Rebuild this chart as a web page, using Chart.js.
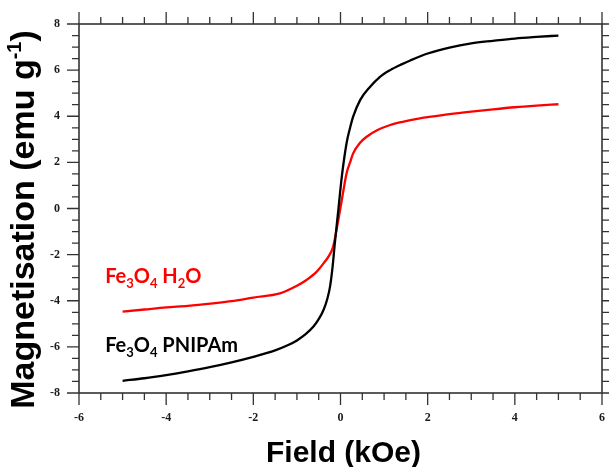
<!DOCTYPE html>
<html>
<head>
<meta charset="utf-8">
<script src="https://cdn.jsdelivr.net/npm/chart.js@4.4.1/dist/chart.umd.min.js"></script>
<style>
  body { margin: 0; background: #fff; }
  canvas { display: block; }
</style>
</head>
<body>
<canvas id="magChart" width="612" height="467"></canvas>
<script>
// Fe3O4 PNIPAm (black)
const fieldPnipam = [-5.0, -4.5, -4.0, -3.5, -3.0, -2.5, -2.0, -1.5, -1.2, -1.0, -0.8, -0.62, -0.5, -0.39, -0.3, -0.24, -0.18, -0.13, -0.05,
  0.03, 0.14, 0.22, 0.29, 0.45, 0.68, 0.9, 1.14, 1.4, 1.6, 2.0, 2.5, 3.0, 3.5, 4.0, 4.5, 5.0];
const magPnipam = [-7.47, -7.36, -7.22, -7.06, -6.88, -6.67, -6.43, -6.15, -5.92, -5.72, -5.45, -5.12, -4.8, -4.4, -3.9, -3.39, -2.5, -1.5, -0.07,
  1.38, 2.84, 3.5, 3.98, 4.7, 5.28, 5.7, 6.0, 6.25, 6.42, 6.72, 6.98, 7.16, 7.27, 7.37, 7.44, 7.5];

// Fe3O4 H2O (red)
const fieldWater = [-5.0, -4.5, -4.0, -3.5, -2.92, -2.5, -2.0, -1.39, -1.0, -0.78, -0.55, -0.39, -0.28, -0.17, -0.05,
  0.03, 0.14, 0.22, 0.29, 0.45, 0.6, 0.85, 1.14, 1.4, 1.82, 2.0, 2.5, 3.0, 3.5, 4.0, 4.5, 5.0];
const magWater = [-4.47, -4.38, -4.29, -4.22, -4.11, -4.02, -3.86, -3.68, -3.35, -3.1, -2.75, -2.38, -2.1, -1.66, -0.5,
  0.37, 1.53, 2.0, 2.39, 2.85, 3.11, 3.4, 3.62, 3.75, 3.91, 3.96, 4.09, 4.2, 4.3, 4.39, 4.46, 4.52];

const xRange = [-6, 6];
const yRange = [-8, 8];
const minorStep = 0.5;
const majorStep = 2;

// labels inside the plot, placed in data units
const labels = [
  { x: -5.4, y: -3.23, color: '#ff0000', parts: [['Fe'], ['3', 1], ['O'], ['4', 1], [' H'], ['2', 1], ['O']] },
  { x: -5.4, y: -6.21, color: '#000000', parts: [['Fe'], ['3', 1], ['O'], ['4', 1], [' PNIPAm']] }
];

const toPoints = (xs, ys) => xs.map((x, i) => ({ x: x, y: ys[i] }));
const isMajor = v => Math.abs(v / majorStep - Math.round(v / majorStep)) < 1e-6;

function drawParts(ctx, parts, x, y, size, family) {
  let cx = x;
  parts.forEach(p => {
    const small = p[1];
    ctx.font = `bold ${small ? Math.round(size * 0.65) : size}px ${family}`;
    ctx.fillText(p[0], cx, small ? y + size * 0.25 : y);
    cx += ctx.measureText(p[0]).width;
  });
}

const frame = {
  id: 'frame',
  afterDraw(chart) {
    const { ctx, chartArea: a, scales: { x, y } } = chart;
    ctx.save();
    ctx.strokeStyle = '#333';
    ctx.lineWidth = 1.6;
    ctx.strokeRect(a.left, a.top, a.right - a.left, a.bottom - a.top);
    ctx.lineWidth = 1.3;
    ctx.beginPath();
    x.ticks.forEach(t => {
      const px = x.getPixelForValue(t.value);
      const len = isMajor(t.value) ? 12 : 7;
      ctx.moveTo(px, a.bottom); ctx.lineTo(px, a.bottom + len);
      ctx.moveTo(px, a.top); ctx.lineTo(px, a.top - len);
    });
    y.ticks.forEach(t => {
      const py = y.getPixelForValue(t.value);
      const len = isMajor(t.value) ? 12 : 7;
      ctx.moveTo(a.left, py); ctx.lineTo(a.left - len, py);
      ctx.moveTo(a.right, py); ctx.lineTo(a.right + 7, py);
    });
    ctx.stroke();

    // axis titles
    ctx.fillStyle = '#000';
    ctx.textBaseline = 'alphabetic';
    ctx.textAlign = 'center';
    ctx.font = 'bold 30px "Liberation Sans", Arial, sans-serif';
    ctx.fillText('Field (kOe)', (a.left + a.right) / 2 + 3, 462);

    const yParts = [['Magnetisation (emu g'], ['-1'], [')']];
    const fam = '"Liberation Sans", Arial, sans-serif';
    const size = 34;
    ctx.translate(34, (a.top + a.bottom) / 2 + 11);
    ctx.rotate(-Math.PI / 2);
    ctx.textAlign = 'left';
    let w = 0;
    yParts.forEach((p, i) => {
      ctx.font = `bold ${i === 1 ? 20 : size}px ${fam}`;
      w += ctx.measureText(p[0]).width;
    });
    let cx = -w / 2;
    yParts.forEach((p, i) => {
      ctx.font = `bold ${i === 1 ? 20 : size}px ${fam}`;
      ctx.fillText(p[0], cx, i === 1 ? -13 : 0);
      cx += ctx.measureText(p[0]).width;
    });
    ctx.restore();

    // series labels
    ctx.save();
    ctx.textAlign = 'left';
    ctx.textBaseline = 'alphabetic';
    labels.forEach(l => {
      ctx.fillStyle = l.color;
      drawParts(ctx, l.parts, x.getPixelForValue(l.x), y.getPixelForValue(l.y), 20, 'Lato, "Open Sans", sans-serif');
    });
    ctx.restore();
  }
};

const tickFont = { family: '"Liberation Serif", "Times New Roman", serif', weight: 'bold', size: 12 };

new Chart(document.getElementById('magChart'), {
  type: 'scatter',
  data: {
    datasets: [
      {
        label: 'Fe3O4 PNIPAm',
        data: toPoints(fieldPnipam, magPnipam),
        showLine: true,
        borderColor: '#000000',
        borderWidth: 2.3,
        pointRadius: 0,
        cubicInterpolationMode: 'monotone'
      },
      {
        label: 'Fe3O4 H2O',
        data: toPoints(fieldWater, magWater),
        showLine: true,
        borderColor: '#ff0000',
        borderWidth: 2.3,
        pointRadius: 0,
        cubicInterpolationMode: 'monotone'
      }
    ]
  },
  options: {
    responsive: false,
    animation: false,
    layout: { padding: { top: 24, right: 10, left: 0, bottom: 0 } },
    plugins: { legend: { display: false }, tooltip: { enabled: false } },
    scales: {
      x: {
        type: 'linear',
        min: xRange[0],
        max: xRange[1],
        grid: { display: false, drawTicks: false },
        border: { display: false },
        ticks: {
          stepSize: minorStep,
          autoSkip: false,
          maxRotation: 0,
          padding: 18,
          color: '#1a1a1a',
          font: tickFont,
          callback: v => isMajor(v) ? String(Math.round(v)) : ''
        },
        afterFit: s => { s.height = 74; s.paddingLeft = 0; s.paddingRight = 0; }
      },
      y: {
        type: 'linear',
        min: yRange[0],
        max: yRange[1],
        grid: { display: false, drawTicks: false },
        border: { display: false },
        ticks: {
          stepSize: minorStep,
          autoSkip: false,
          padding: 19,
          color: '#1a1a1a',
          font: tickFont,
          callback: v => isMajor(v) ? String(Math.round(v)) : ''
        },
        afterFit: s => { s.width = 79; s.paddingTop = 0; s.paddingBottom = 0; }
      }
    }
  },
  plugins: [frame]
});
</script>
</body>
</html>
